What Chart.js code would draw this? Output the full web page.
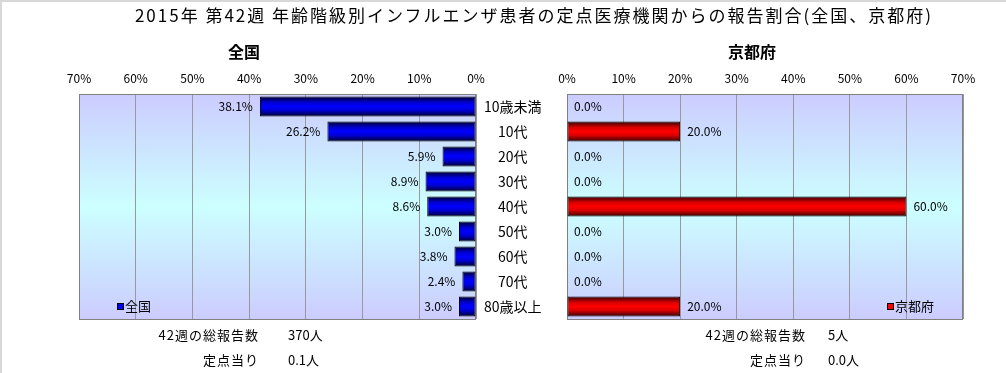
<!DOCTYPE html>
<html>
<head>
<meta charset="utf-8">
<script src="https://cdn.jsdelivr.net/npm/chart.js@4/dist/chart.umd.min.js"></script>
<style>
  body { margin: 0; background: #fff; }
  #wrap { position: relative; width: 1006px; height: 373px; overflow: hidden; font-family: "Noto Sans CJK JP", sans-serif; color: #000; }
  #frame { position: absolute; left: 0; top: 0; width: 1006px; height: 373px; border-left: 2px solid #d8d8d8; border-top: 2px solid #d8d8d8; box-sizing: border-box; }
  canvas { position: absolute; top: 0; }
  .t { position: absolute; white-space: nowrap; line-height: 1; }
  #title { left: 0; width: 1068px; text-align: center; top: 6px; font-size: 17px; letter-spacing: 2px; }
  .sub { top: 43px; font-size: 16px; font-weight: bold; width: 100px; text-align: center; }
  .foot { font-size: 13px; }
  .r { text-align: right; width: 140px; letter-spacing: 1px; }
</style>
</head>
<body>
<div id="wrap">
  <div id="frame"></div>
  <canvas id="left" width="567" height="373" style="left:0"></canvas>
  <canvas id="right" width="530" height="373" style="left:476px"></canvas>
  <div class="t" id="title">2015年 第42週 年齢階級別インフルエンザ患者の定点医療機関からの報告割合(全国、京都府)</div>
  <div class="t sub" style="left:194px">全国</div>
  <div class="t sub" style="left:702px">京都府</div>

  <div class="t foot r" style="left:119px;top:328px">42週の総報告数</div>
  <div class="t foot" style="left:288px;top:328px">370人</div>
  <div class="t foot r" style="left:119px;top:353px">定点当り</div>
  <div class="t foot" style="left:288px;top:353px">0.1人</div>

  <div class="t foot r" style="left:666px;top:328px">42週の総報告数</div>
  <div class="t foot" style="left:828px;top:328px">5人</div>
  <div class="t foot r" style="left:666px;top:353px">定点当り</div>
  <div class="t foot" style="left:828px;top:353px">0.0人</div>
</div>
<script>
var categories = ['10歳未満', '10代', '20代', '30代', '40代', '50代', '60代', '70代', '80歳以上'];
var zenkoku = [38.1, 26.2, 5.9, 8.9, 8.6, 3.0, 3.8, 2.4, 3.0];
var kyoto = [0.0, 20.0, 0.0, 0.0, 60.0, 0.0, 0.0, 0.0, 20.0];
var xMax = 70;
var xStep = 10;

var blueStops = ['#000028', '#0000d0', '#0000ff', '#0000d0', '#000028'];
var redStops = ['#300000', '#d80000', '#ff0000', '#d80000', '#300000'];

function barGradient(stops) {
    return function(ctx) {
        var chart = ctx.chart;
        var y = chart.scales.y;
        if (ctx.dataIndex === undefined || !y) return stops[2];
        var center = y.getPixelForValue(ctx.dataIndex);
        var half = (y.bottom - y.top) / categories.length * 0.4;
        if (!isFinite(center) || !isFinite(half)) return stops[2];
        var g = chart.ctx.createLinearGradient(0, center - half, 0, center + half);
        g.addColorStop(0, stops[0]);
        g.addColorStop(0.3, stops[1]);
        g.addColorStop(0.5, stops[2]);
        g.addColorStop(0.7, stops[3]);
        g.addColorStop(1, stops[4]);
        return g;
    };
}

// background gradient + plot border
var plotBg = {
    id: 'plotBg',
    beforeDraw: function(chart) {
        var a = chart.chartArea, c = chart.ctx;
        var g = c.createLinearGradient(0, a.top, 0, a.bottom);
        g.addColorStop(0, '#ccccff');
        g.addColorStop(0.5, '#ccffff');
        g.addColorStop(1, '#ccccff');
        c.save();
        c.fillStyle = g;
        c.fillRect(a.left, a.top, a.right - a.left, a.bottom - a.top);
        c.restore();
    },
    beforeDatasetsDraw: function(chart) {
        var a = chart.chartArea, c = chart.ctx;
        c.save();
        c.strokeStyle = '#808080';
        c.lineWidth = 1;
        c.strokeRect(a.left + 0.5, a.top + 0.5, a.right - a.left - 1, a.bottom - a.top);
        c.restore();
    }
};

// value labels and small legend box
function labelsPlugin(side, legendText, legendColor) {
    return {
        id: 'labels_' + side,
        afterDatasetsDraw: function(chart) {
            var c = chart.ctx;
            var meta = chart.getDatasetMeta(0);
            var data = chart.data.datasets[0].data;
            c.save();
            c.font = '12px "Noto Sans CJK JP", sans-serif';
            c.fillStyle = '#000';
            c.textBaseline = 'middle';
            meta.data.forEach(function(bar, i) {
                var txt = data[i].toFixed(1) + '%';
                if (side === 'left') {
                    c.textAlign = 'right';
                    c.fillText(txt, bar.x - 7, bar.y);
                } else {
                    c.textAlign = 'left';
                    c.fillText(txt, bar.x + 7, bar.y);
                }
            });
            var a = chart.chartArea;
            var lx = side === 'left' ? a.left + 38 : a.right - 76;
            var ly = a.bottom - 13;
            c.fillStyle = legendColor;
            c.fillRect(lx, ly - 3, 6, 6);
            c.strokeStyle = '#000';
            c.strokeRect(lx + 0.5, ly - 2.5, 6, 6);
            c.fillStyle = '#000';
            c.textAlign = 'left';
            c.font = '13px "Noto Sans CJK JP", sans-serif';
            c.fillText(legendText, lx + 8, ly);
            c.restore();
        }
    };
}

function xAxis(reverse) {
    return {
        type: 'linear',
        position: 'top',
        reverse: reverse,
        min: 0,
        max: xMax,
        grid: { color: '#999999', drawTicks: false },
        border: { display: false },
        ticks: {
            stepSize: xStep,
            padding: 8,
            color: '#000',
            font: { size: 12, family: '"Noto Sans CJK JP", sans-serif' },
            callback: function(v) { return v + '%'; }
        },
        afterFit: function(s) {
            s.height = 28;
            s.paddingLeft = 0;
            s.paddingRight = 0;
        }
    };
}

Chart.defaults.font.family = '"Noto Sans CJK JP", sans-serif';

new Chart(document.getElementById('left').getContext('2d'), {
    type: 'bar',
    data: {
        labels: categories,
        datasets: [{
            label: '全国',
            data: zenkoku,
            backgroundColor: barGradient(blueStops),
            borderColor: '#000',
            borderWidth: 1,
            borderSkipped: false,
            categoryPercentage: 1,
            barPercentage: 0.8
        }]
    },
    options: {
        indexAxis: 'y',
        responsive: false,
        animation: false,
        devicePixelRatio: 1,
        layout: { padding: { left: 79, top: 66, bottom: 54, right: 0 } },
        plugins: { legend: { display: false }, tooltip: { enabled: false } },
        scales: {
            x: xAxis(true),
            y: {
                type: 'category',
                position: 'right',
                grid: { display: false },
                border: { display: false },
                ticks: {
                    color: '#000',
                    crossAlign: 'center',
                    padding: 0,
                    font: { size: 14 }
                },
                afterFit: function(s) { s.width = 91; }
            }
        }
    },
    plugins: [plotBg, labelsPlugin('left', '全国', '#0000ff')]
});

new Chart(document.getElementById('right').getContext('2d'), {
    type: 'bar',
    data: {
        labels: categories,
        datasets: [{
            label: '京都府',
            data: kyoto,
            backgroundColor: barGradient(redStops),
            borderColor: '#000',
            borderWidth: function(ctx) { return ctx.raw ? 1 : 0; },
            borderSkipped: false,
            categoryPercentage: 1,
            barPercentage: 0.8
        }]
    },
    options: {
        indexAxis: 'y',
        responsive: false,
        animation: false,
        devicePixelRatio: 1,
        layout: { padding: { left: 91, top: 66, bottom: 54, right: 43 } },
        plugins: { legend: { display: false }, tooltip: { enabled: false } },
        scales: {
            x: xAxis(false),
            y: { type: 'category', display: false }
        }
    },
    plugins: [plotBg, labelsPlugin('right', '京都府', '#ff0000')]
});
</script>
</body>
</html>
